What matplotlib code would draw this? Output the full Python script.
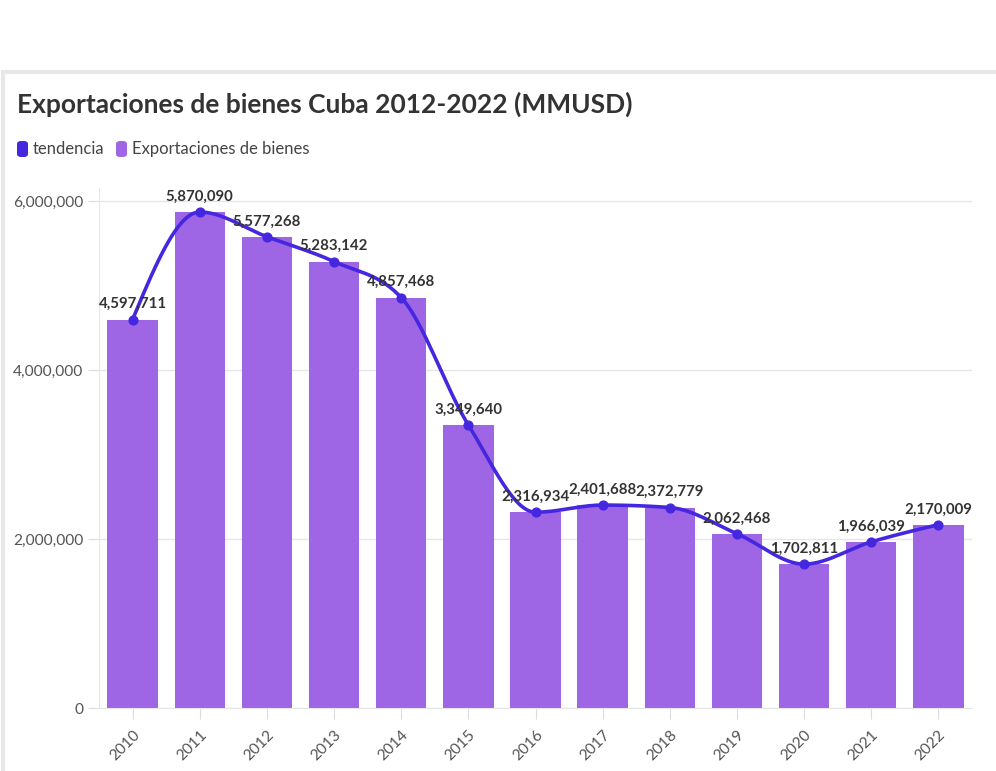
import matplotlib
matplotlib.use("Agg")
import matplotlib.pyplot as plt
import numpy as np
from matplotlib.patches import FancyBboxPatch, Rectangle
from matplotlib.ticker import FuncFormatter

years = ["2010", "2011", "2012", "2013", "2014", "2015", "2016",
         "2017", "2018", "2019", "2020", "2021", "2022"]
exportaciones = [4597711, 5870090, 5577268, 5283142, 4857468, 3349640, 2316934,
                 2401688, 2372779, 2062468, 1702811, 1966039, 2170009]
yticks = [0, 2000000, 4000000, 6000000]

BAR_COLOR = "#9e66e4"
LINE_COLOR = "#4527e0"
TEXT = "#333333"

plt.rcParams['font.family'] = ['Lato', 'DejaVu Sans']


def smooth(x, y, n=30):
    # interpolacion monotona (como curveMonotoneX) para la tendencia
    x = np.asarray(x, float)
    y = np.asarray(y, float)
    h = np.diff(x)
    d = np.diff(y) / h
    m = np.zeros_like(y)
    for i in range(1, len(y) - 1):
        p = (d[i-1]*h[i] + d[i]*h[i-1]) / (h[i-1] + h[i])
        m[i] = (np.sign(d[i-1]) + np.sign(d[i])) * min(abs(d[i-1]), abs(d[i]), 0.5*abs(p))
    m[0] = (3*d[0] - m[1]) / 2
    m[-1] = (3*d[-1] - m[-2]) / 2
    xs, ys = [], []
    for i in range(len(x) - 1):
        t = np.linspace(0, 1, n)
        hh = h[i]
        h00 = 2*t**3 - 3*t**2 + 1
        h10 = t**3 - 2*t**2 + t
        h01 = -2*t**3 + 3*t**2
        h11 = t**3 - t**2
        xs.append(x[i] + t*hh)
        ys.append(h00*y[i] + h10*hh*m[i] + h01*y[i+1] + h11*hh*m[i+1])
    return np.concatenate(xs), np.concatenate(ys)


fig = plt.figure(figsize=(9.96, 7.71), dpi=100)

# tarjeta
card = Rectangle((3/996, -0.01), 1.0, 1 - 72/771 + 0.01, transform=fig.transFigure,
                 facecolor="white", edgecolor="#e8e8e8", linewidth=3, zorder=-5)
fig.patches.append(card)

fig.text(17/996, 1 - 104/771, "Exportaciones de bienes Cuba 2012-2022 (MMUSD)",
         fontsize=19, fontweight="bold", color=TEXT, va="center", ha="left")

# leyenda
for x0, label, col in [(17, "tendencia", LINE_COLOR), (116, "Exportaciones de bienes", BAR_COLOR)]:
    fig.patches.append(FancyBboxPatch((x0/996, 1 - 157/771), 11/996, 16/771,
                                      boxstyle="round,pad=0,rounding_size=0.004",
                                      transform=fig.transFigure, facecolor=col, edgecolor="none"))
    fig.text((x0 + 16)/996, 1 - 149/771, label, fontsize=12, color="#444444",
             va="center", ha="left")

ax = fig.add_axes([99/996, 1 - 708/771, (972 - 99)/996, (708 - 188)/771])
ax.patch.set_alpha(0)
x = np.arange(len(years))
ax.bar(x, exportaciones, width=0.75, color=BAR_COLOR, zorder=2)

sx, sy = smooth(x, exportaciones)
ax.plot(sx, sy, color=LINE_COLOR, linewidth=2.6, zorder=3)
ax.scatter(x, exportaciones, s=40, color=LINE_COLOR, zorder=4)

for xi, v in zip(x, exportaciones):
    ax.annotate(f"{v:,}", (xi, v), xytext=(0, 6), textcoords="offset points",
                ha="center", va="bottom", fontsize=10.8, fontweight="bold", color=TEXT, zorder=5)

ax.set_xlim(-0.5, len(years) - 0.5)
ax.set_ylim(0, 6154000)
ax.set_yticks(yticks)
ax.yaxis.set_major_formatter(FuncFormatter(lambda v, p: f"{int(v):,}"))
ax.set_xticks(x)
ax.set_xticklabels(years, rotation=45, ha="right", rotation_mode="anchor")
ax.tick_params(axis="both", colors="#dddddd", labelcolor="#555555", labelsize=11.2, length=8)
ax.tick_params(axis="x", pad=6)
ax.grid(axis="y", color="#e6e6e6", linewidth=1, zorder=0)
ax.set_axisbelow(True)
for s in ["top", "right"]:
    ax.spines[s].set_visible(False)
for s in ["left", "bottom"]:
    ax.spines[s].set_color("#e6e6e6")

fig.savefig("out.png", dpi=100)
